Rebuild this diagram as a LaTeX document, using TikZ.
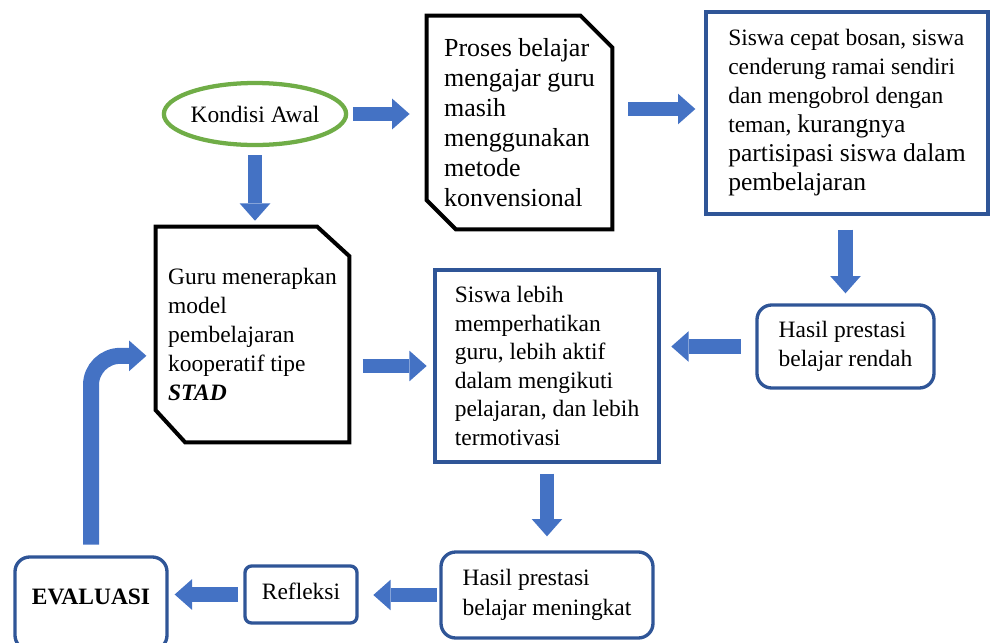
\documentclass[tikz,border=0pt]{standalone}
\usepackage{fontspec}
\setmainfont{Liberation Serif}
\usetikzlibrary{arrows.meta,shapes.geometric}
\definecolor{arrowblue}{HTML}{4472C4}
\definecolor{boxblue}{HTML}{2F5597}
\definecolor{ovalgreen}{HTML}{70AD47}
\tikzset{
  txt/.style={font=\fontsize{17.6}{21.75}\selectfont, align=left, inner sep=0pt},
  bluebox/.style={txt, draw=boxblue, line width=2.5pt},
  roundbox/.style={bluebox, rounded corners=11pt},
  snipline/.style={draw, line width=3pt, line join=miter},
  barrow/.style={draw=arrowblue, line width=11pt,
    -{Triangle[width=23pt,length=13pt,line width=0pt]}},
}
\newcommand{\bigtxt}{\fontsize{19.2}{21.75}\selectfont}

\begin{document}
\begin{tikzpicture}[x=0.75pt,y=-0.75pt]
  \useasboundingbox (0,0) rectangle (990,643);
  \clip (0,0) rectangle (990,643);

  \node (kondisi) at (255,114) [txt, ellipse, draw=ovalgreen, line width=3.2pt,
    minimum width=124pt, minimum height=46.5pt] {Kondisi Awal};
  \node (proses) at (519.5,122.5) [txt, minimum width=139pt, minimum height=160pt,
    font=\fontsize{19.5}{22.5}\selectfont]
    {Proses belajar\\ mengajar guru\\ masih\\ menggunakan\\ metode\\ konvensional};
  \node (siswacepat) at (847,113) [bluebox, minimum width=211.5pt, minimum height=151.5pt]
    {Siswa cepat bosan, siswa\\ cenderung ramai sendiri\\ dan mengobrol dengan\\
     teman, {\bigtxt kurangnya}\\ {\bigtxt partisipasi siswa dalam}\\ {\bigtxt pembelajaran}};
  \node (guru) at (252.5,334.5) [txt, minimum width=144.75pt, minimum height=161.25pt]
    {Guru menerapkan\\ model\\ pembelajaran\\ kooperatif tipe\\ \textbf{\textit{STAD}}};
  \node (rendah) at (845.5,346.5) [roundbox, minimum width=132.75pt, minimum height=62.25pt]
    {Hasil prestasi\\ belajar rendah};
  \node (lebih) at (547,366) [bluebox, minimum width=168pt, minimum height=144pt,
    font=\fontsize{17.6}{21.4}\selectfont]
    {Siswa lebih\\ memperhatikan\\ guru, lebih aktif\\ dalam mengikuti\\ pelajaran, dan lebih\\ termotivasi};
  \node (meningkat) at (547,595) [roundbox, minimum width=159pt, minimum height=64.5pt]
    {\raisebox{3pt}{\begin{tabular}{@{}l@{}}Hasil prestasi\\[1pt] belajar meningkat\end{tabular}}};
  \node (refleksi) at (301,594.5) [bluebox, rounded corners=5pt, minimum width=84pt,
    minimum height=42.75pt] {\raisebox{5pt}{Refleksi}};
  \node (evaluasi) at (91,603.5) [roundbox, minimum width=114pt, minimum height=69.75pt]
    {\raisebox{10.5pt}{\textbf{EVALUASI}}};

  \draw[snipline] (proses.north west) -- ([xshift=-24pt]proses.north east)
    -- ([yshift=-24pt]proses.north east) -- (proses.south east)
    -- ([xshift=22pt]proses.south west) -- ([yshift=22pt]proses.south west) -- cycle;
  \draw[snipline] (guru.north west) -- ([xshift=-24pt]guru.north east)
    -- ([yshift=-22pt]guru.north east) -- (guru.south east)
    -- ([xshift=22pt]guru.south west) -- ([yshift=24pt]guru.south west) -- cycle;

  \draw[barrow, shorten <=3.4pt, shorten >=12.75pt] (kondisi.east) -- (kondisi.east -| proses.west);
  \draw[barrow, shorten <=6pt, shorten >=4.5pt] (kondisi.south) -- (kondisi.south |- guru.north);
  \draw[barrow, shorten <=12pt, shorten >=6.75pt] ([yshift=3pt]proses.east |- siswacepat.west)
    -- ([yshift=3pt]siswacepat.west);
  \draw[barrow, shorten <=10.5pt, shorten >=7.5pt] (rendah.north |- siswacepat.south) -- (rendah.north);
  \draw[barrow, shorten <=11pt, shorten >=8pt] (rendah.west) -- (rendah.west -| lebih.east);
  \draw[barrow, shorten <=10pt, shorten >=5pt] (lebih.west -| guru.east) -- (lebih.west);
  \draw[barrow, shorten <=7.5pt, shorten >=10.5pt] (lebih.south) -- (lebih.south |- meningkat.north);
  \draw[barrow, shorten <=2pt, shorten >=11pt] (meningkat.west) -- (meningkat.west -| refleksi.east);
  \draw[barrow, shorten <=4pt, shorten >=4.5pt] (refleksi.west) -- (refleksi.west -| evaluasi.east);
  \draw[barrow, line width=12pt, rounded corners=22pt, shorten <=8pt, shorten >=7pt]
    (evaluasi.north) |- ([yshift=-16pt]guru.west);
\end{tikzpicture}
\end{document}
